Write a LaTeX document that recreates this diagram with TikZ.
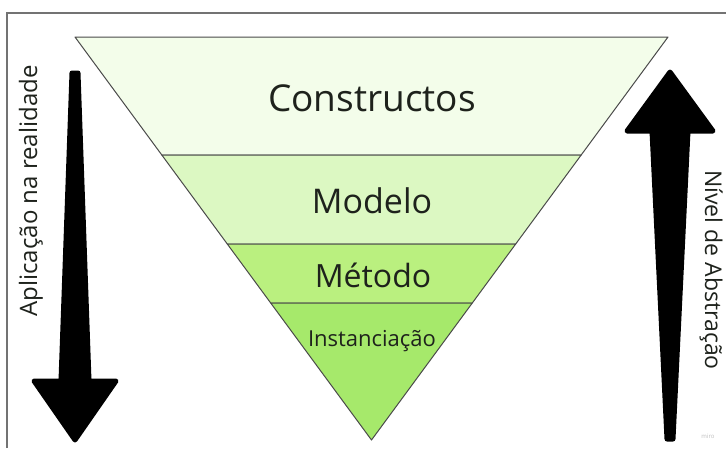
\documentclass[tikz,border=0pt]{standalone}
\usepackage{fontspec}
\setmainfont{Open Sans}

\definecolor{bandA}{HTML}{F3FDEA}
\definecolor{bandB}{HTML}{DCF8C2}
\definecolor{bandC}{HTML}{BAF07F}
\definecolor{bandD}{HTML}{A6E96B}
\definecolor{edge}{HTML}{4A4A4A}
\definecolor{txt}{HTML}{1E221C}

\tikzset{
  layer/.style={draw=edge, line width=1pt, line join=round},
  lbl/.style={text=txt, inner sep=0pt, anchor=base},
  bigarrow/.style={fill=black, draw=black, line width=5pt, line join=round},
}

\begin{document}
\begin{tikzpicture}[x=1pt,y=-1pt]
    \useasboundingbox (0,0) rectangle (726,448);
    \fill[white] (0,0) rectangle (726,448);
    % frame
    \draw[black!55, line width=1.2pt] (7,448) -- (7,13) -- (726,13);

    % layers of the funnel
    \foreach \ya/\yb/\col in {37/155/bandA, 155/244/bandB, 244/303/bandC}
 {
 \filldraw[layer, fill=\col] ({371.5-0.73573*(440-\ya)},\ya) -- ({371.5+0.73573*(440-\ya)},\ya)
    -- ({371.5+0.73573*(440-\yb)},\yb) -- ({371.5-0.73573*(440-\yb)},\yb) -- cycle;
 }
    \filldraw[layer, fill=bandD] ({371.5-0.73573*137},303) -- ({371.5+0.73573*137},303) -- (371.5,440) -- cycle;

    \node[lbl, font=\fontsize{37}{44}\selectfont] (cons) at (372,111) {Constructos};
    \node[lbl, font=\fontsize{34}{40}\selectfont] (mod) at (372,213) {Modelo};
    \node[lbl, font=\fontsize{32}{38}\selectfont] (met) at (373,287) {Método};
    \node[lbl, font=\fontsize{22}{26}\selectfont] (inst) at (372,346) {Instanciação};

    % arrows
    \filldraw[bigarrow] (72,73) -- (78,73) -- (89,381) -- (116,381) -- (75,440) -- (34,381) -- (61,381) -- cycle;
    \filldraw[bigarrow] (667,439) -- (673,439) -- (688,131) -- (713,131) -- (670,72) -- (627,131) -- (652,131) -- cycle;

    \node[lbl, rotate=90, font=\fontsize{24}{29}\selectfont] (apl) at (37,191) {Aplicação na realidade};
    \node[lbl, rotate=-90, font=\fontsize{23}{28}\selectfont] (niv) at (705,270) {Nível de Abstração};

    \node[text=black!25, font=\fontsize{6}{7}\selectfont] (miro) at (708,436) {miro};
\end{tikzpicture}
\end{document}
